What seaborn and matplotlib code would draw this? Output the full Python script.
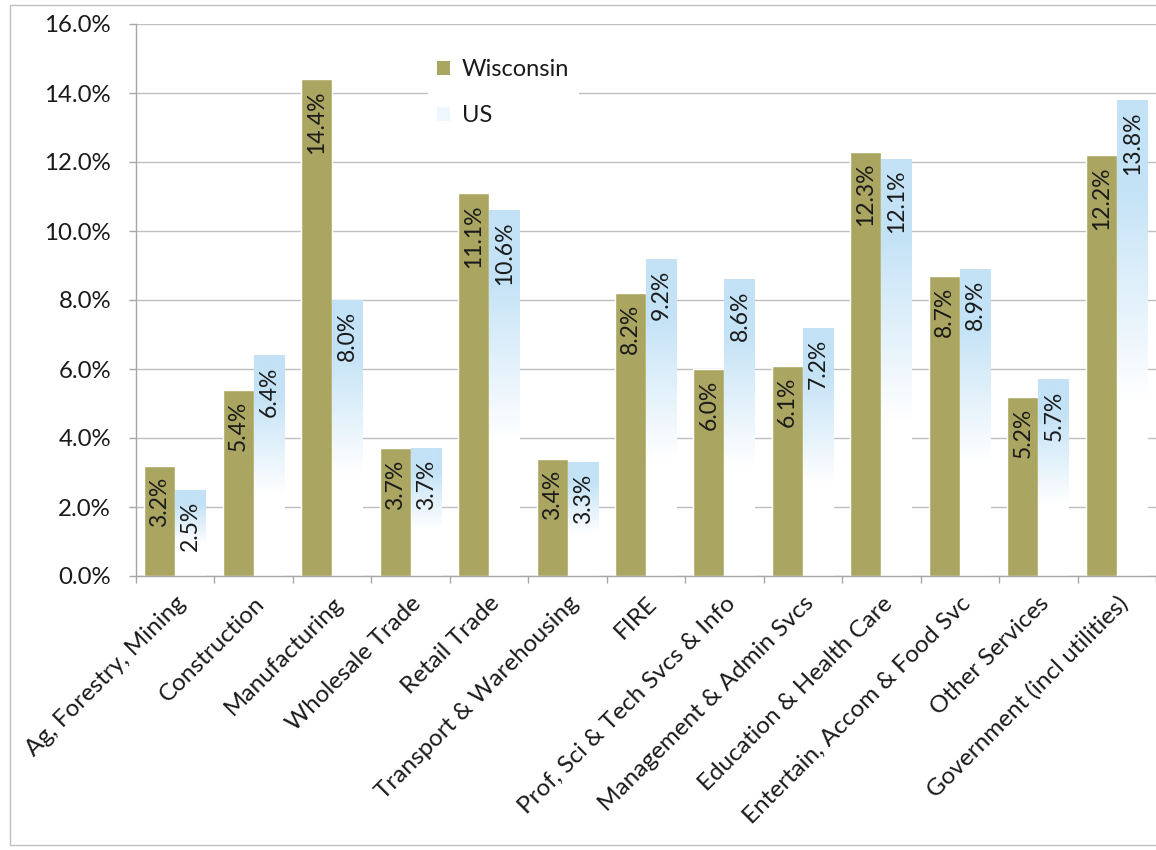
import numpy as np
import pandas as pd
import seaborn as sns
import matplotlib.pyplot as plt
import matplotlib.transforms as mtransforms
from matplotlib.patches import Patch, Rectangle
from matplotlib.ticker import FixedLocator, PercentFormatter

industries = [
    "Ag, Forestry, Mining", "Construction", "Manufacturing", "Wholesale Trade",
    "Retail Trade", "Transport & Warehousing", "FIRE", "Prof, Sci & Tech Svcs & Info",
    "Management & Admin Svcs", "Education & Health Care", "Entertain, Accom & Food Svc",
    "Other Services", "Government (incl utilities)",
]
wisconsin = [3.2, 5.4, 14.4, 3.7, 11.1, 3.4, 8.2, 6.0, 6.1, 12.3, 8.7, 5.2, 12.2]
us = [2.5, 6.4, 8.0, 3.7, 10.6, 3.3, 9.2, 8.6, 7.2, 12.1, 8.9, 5.7, 13.8]
series = ["Wisconsin", "US"]

df = pd.DataFrame({
    "Industry": industries * 2,
    "Share": wisconsin + us,
    "Region": [series[0]] * len(industries) + [series[1]] * len(industries),
})

sns.set_theme(style="white")
plt.rcParams["font.family"] = ["Lato", "DejaVu Sans"]

OLIVE = "#AAA661"
SKY = "#C6E4F7"
GRID = "#BFBFBF"
TEXT = "#1A1A1A"

fig = plt.figure(figsize=(11.56, 8.5), dpi=100)
ax = fig.add_axes([136 / 1156, 1 - 576 / 850, 1 - 136 / 1156, (576 - 24) / 850])

sns.barplot(data=df, x="Industry", y="Share", hue="Region", order=industries,
            hue_order=series, palette=[OLIVE, SKY], width=0.79, gap=0,
            saturation=1, ax=ax, legend=False, zorder=3)

# US bars: light blue at the top fading to white towards the base
n = 256
t = np.linspace(0, 1, n)
fade = np.clip((t - 0.18) / 0.45, 0, 1)[:, None]
sky_rgb = np.array([0xC3, 0xE2, 0xF6]) / 255
grad = (sky_rgb * (1 - fade) + np.ones(3) * fade)[:, None, :]
for bar in ax.containers[1]:
    x0, y0 = bar.get_x(), bar.get_y()
    w, h = bar.get_width(), bar.get_height()
    bar.set_facecolor("none")
    bar.set_edgecolor("none")
    im = ax.imshow(grad, extent=(x0, x0 + w, y0, y0 + h), aspect="auto",
                   origin="upper", zorder=3, interpolation="bilinear")
    im.set_clip_path(bar)

ax.set_xlim(-0.5, 12.5)
ax.set_ylim(0, 16)
ax.set_xlabel("")
ax.set_ylabel("")

# value labels just inside the bar tops
for cont, vals in zip(ax.containers, [wisconsin, us]):
    for bar, v in zip(cont, vals):
        ax.annotate(f"{v:.1f}%", (bar.get_x() + bar.get_width() / 2, v),
                    xytext=(0, -8), textcoords="offset points",
                    rotation=90, ha="center", va="top", fontsize=16.5,
                    color=TEXT, zorder=5)

# axes styling
ax.yaxis.set_major_locator(FixedLocator(np.arange(0, 16.1, 2)))
ax.yaxis.set_major_formatter(PercentFormatter(decimals=1))
ax.grid(axis="y", color=GRID, lw=1, zorder=0)
ax.grid(axis="x", visible=False)
ax.set_axisbelow(True)
for side in ["top", "right"]:
    ax.spines[side].set_visible(False)
for side in ["left", "bottom"]:
    ax.spines[side].set_color("#A6A6A6")
    ax.spines[side].set_linewidth(1)
    ax.spines[side].set_zorder(4)

ax.tick_params(axis="y", which="major", length=5, width=1, color="#A6A6A6",
               labelsize=17.3, labelcolor=TEXT, pad=13, left=True, direction="out")
ax.set_xticks(np.arange(-0.5, 12.6, 1), minor=True)
ax.tick_params(axis="x", which="minor", length=5, width=1, color="#A6A6A6",
               bottom=True, direction="out")
ax.tick_params(axis="x", which="major", length=0, labelsize=17.5, labelcolor=TEXT, pad=12)
shift = mtransforms.ScaledTranslation(0, 0, fig.dpi_scale_trans)
for lab in ax.get_xticklabels():
    lab.set_rotation(45)
    lab.set_ha("right")
    lab.set_va("top")
    lab.set_rotation_mode("anchor")
    lab.set_transform(lab.get_transform() + shift)

handles = [Patch(facecolor=OLIVE, edgecolor="none"),
           Patch(facecolor="#EEF7FD", edgecolor="none")]
leg = ax.legend(handles, series, loc="upper left",
                bbox_to_anchor=((416 - 136) / 1020, 1 - (38 - 24) / 552),
                frameon=True, facecolor="white", edgecolor="none", framealpha=1,
                fontsize=17, handlelength=0.55, handleheight=0.55,
                handletextpad=0.5, labelspacing=1.05, borderpad=0.4,
                fancybox=False)
for txt in leg.get_texts():
    txt.set_color(TEXT)
leg.set_zorder(6)

# outer chart frame
fig.patches.append(Rectangle((10 / 1156, 5 / 850), 1.2, 840 / 850,
                             transform=fig.transFigure, fill=False,
                             edgecolor="#BFBFBF", lw=1, zorder=0))

fig.savefig("out.png", dpi=100, facecolor="white")
